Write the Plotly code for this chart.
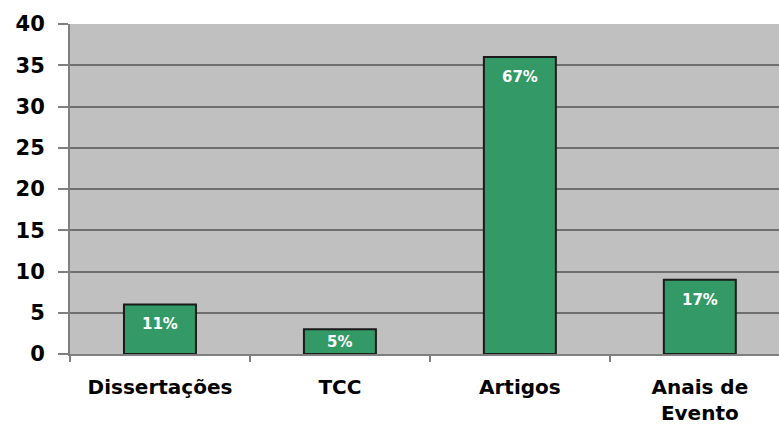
import plotly.graph_objects as go

categories = ["Dissertações", "TCC", "Artigos", "Anais de<br>Evento"]
values = [6, 3, 36, 9]
percent_labels = ["11%", "5%", "67%", "17%"]
y_ticks = [0, 5, 10, 15, 20, 25, 30, 35, 40]

FONT = "DejaVu Sans"

fig = go.Figure()
fig.add_trace(go.Bar(
    x=categories, y=values, width=0.4,
    marker=dict(color="#339966", line=dict(color="#1a1a1a", width=2)),
    hoverinfo="skip",
))

for c, v, t in zip(categories, values, percent_labels):
    fig.add_annotation(
        x=c, y=max(v - 2.4, v / 2), text=t, showarrow=False,
        font=dict(family=FONT, size=15, color="white", weight="bold"),
        xanchor="center", yanchor="middle",
    )

fig.update_layout(
    width=779, height=428,
    margin=dict(l=70, r=0, t=24, b=74),
    paper_bgcolor="white", plot_bgcolor="#c0c0c0",
    showlegend=False,
    font=dict(family=FONT, color="black"),
)
fig.update_xaxes(
    range=[-0.5, 3.44], tickson="boundaries", ticks="outside", ticklen=6,
    tickcolor="#7f7f7f", tickwidth=2,
    showline=True, linecolor="#7f7f7f", linewidth=2,
    tickfont=dict(family=FONT, size=20, color="black", weight="bold"),
    ticklabelstandoff=14,
    showgrid=False,
)
fig.update_yaxes(
    range=[0, 40], tickvals=y_ticks, ticks="outside", ticklen=10,
    tickcolor="#7f7f7f", tickwidth=2,
    showline=True, linecolor="#7f7f7f", linewidth=2,
    gridcolor="#6e6e6e", gridwidth=2, zeroline=False,
    tickfont=dict(family=FONT, size=21, color="black", weight="bold"),
    ticklabelstandoff=9,
)

fig.write_html("out.html")
